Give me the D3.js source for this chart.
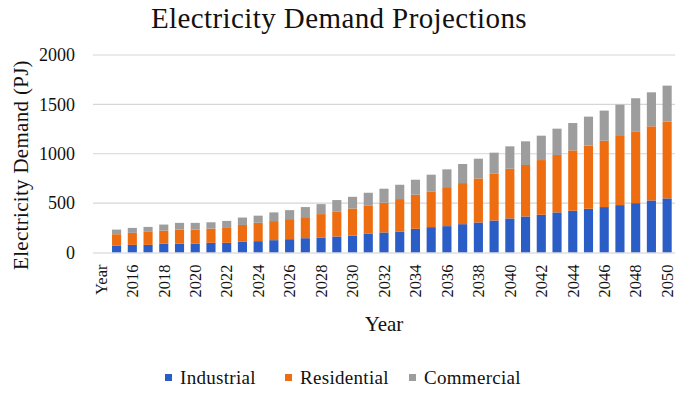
<!DOCTYPE html>
<html>
<head>
<meta charset="utf-8">
<script src="https://cdn.jsdelivr.net/npm/d3@7"></script>
<style>
  body { margin: 0; background: #fff; }
  svg text { font-family: 'Liberation Serif', 'DejaVu Serif', serif !important; fill: #111; }
</style>
</head>
<body>
<svg id="chart" width="700" height="394"></svg>
<script>
// categories (first slot is the header row "Year", it has no bar)
const categories = ["Year", "2015", "2016", "2017", "2018", "2019", "2020", "2021", "2022",
  "2023", "2024", "2025", "2026", "2027", "2028", "2029", "2030", "2031", "2032", "2033",
  "2034", "2035", "2036", "2037", "2038", "2039", "2040", "2041", "2042", "2043", "2044",
  "2045", "2046", "2047", "2048", "2049", "2050"];

// electricity demand, PJ
const industrial = [0, 71, 77, 77, 91, 91, 91, 98, 98, 111, 115, 125, 135, 145, 152, 162, 172,
  193, 203, 213, 240, 257, 267, 287, 304, 324, 345, 365, 382, 406, 423, 443, 460, 480, 500, 527, 548];
const residential = [0, 114, 122, 132, 131, 141, 141, 144, 158, 168, 186, 193, 203, 213, 237, 254, 274,
  284, 301, 328, 345, 358, 395, 416, 446, 477, 503, 521, 554, 581, 611, 639, 672, 700, 727, 751, 777];
const commercial = [0, 47, 50, 50, 61, 68, 68, 64, 64, 75, 72, 88, 91, 102, 101, 115, 118,
  128, 142, 145, 152, 173, 180, 193, 200, 210, 227, 240, 247, 267, 277, 294, 305, 317, 335, 344, 365];

const seriesNames = ["Industrial", "Residential", "Commercial"];
const seriesColors = ["#2b5dc7", "#ef6d11", "#9d9d9d"];
const yTicks = [0, 500, 1000, 1500, 2000];

const svg = d3.select("#chart");
const plotLeft = 93, plotRight = 675, plotTop = 55, plotBottom = 252.5;

// table for the stack layout
const rows = categories.map((c, i) => ({
  year: c, Industrial: industrial[i], Residential: residential[i], Commercial: commercial[i]
}));
const stacked = d3.stack().keys(seriesNames)(rows);

const x = d3.scaleBand().domain(categories).range([plotLeft, plotRight]).paddingInner(0.42).paddingOuter(0.21);
const y = d3.scaleLinear().domain([0, 2000]).range([plotBottom, plotTop]);
const color = d3.scaleOrdinal().domain(seriesNames).range(seriesColors);

// gridlines
svg.append("g")
  .selectAll("line").data(yTicks.slice(1)).join("line")
  .attr("x1", plotLeft).attr("x2", plotRight)
  .attr("y1", d => y(d)).attr("y2", d => y(d))
  .attr("stroke", "#d6d6d6").attr("stroke-width", 1.2);

// y axis labels
const yAxis = svg.append("g")
  .attr("transform", `translate(${plotLeft - 18},0)`)
  .call(d3.axisLeft(y).tickValues(yTicks).tickFormat(d3.format("d")).tickSize(0).tickPadding(0));
yAxis.attr("font-family", null);
yAxis.select(".domain").remove();
yAxis.selectAll("text").style("font-size", "18px").attr("fill", "#111");

// bars
svg.append("g")
  .selectAll("g").data(stacked).join("g")
  .attr("fill", d => color(d.key))
  .selectAll("rect").data(d => d).join("rect")
  .attr("x", d => x(d.data.year))
  .attr("width", x.bandwidth())
  .attr("y", d => y(d[1]))
  .attr("height", d => y(d[0]) - y(d[1]));

// x axis
const xAxis = svg.append("g")
  .attr("transform", `translate(0,${plotBottom})`)
  .call(d3.axisBottom(x).tickValues(categories.filter((c, i) => i % 2 === 0)).tickSize(0).tickPadding(0));
xAxis.attr("font-family", null);
xAxis.select(".domain").attr("stroke", "#cfcfcf").attr("stroke-width", 1.2)
  .attr("d", `M${plotLeft},0.5H${plotRight}`);
xAxis.selectAll("text")
  .style("font-size", "16.5px").attr("fill", "#111")
  .attr("transform", "rotate(-90)")
  .attr("text-anchor", "end")
  .attr("x", -12).attr("y", 0).attr("dy", "0.35em");

// title
svg.append("text")
  .attr("x", 339).attr("y", 28)
  .attr("text-anchor", "middle")
  .style("font-size", "29px")
  .style("letter-spacing", "0.4px")
  .text("Electricity Demand Projections");

// axis titles
svg.append("text")
  .attr("transform", "translate(28,165) rotate(-90)")
  .attr("text-anchor", "middle")
  .style("font-size", "21px")
  .style("letter-spacing", "0.3px")
  .text("Electricity Demand (PJ)");

svg.append("text")
  .attr("x", 384).attr("y", 331)
  .attr("text-anchor", "middle")
  .style("font-size", "21px")
  .text("Year");

// legend
const legendX = [165, 285, 409];
const legend = svg.append("g")
  .selectAll("g").data(seriesNames).join("g")
  .attr("transform", (d, i) => `translate(${legendX[i]},378)`);
legend.append("rect")
  .attr("x", 0).attr("y", -4).attr("width", 7).attr("height", 7)
  .attr("fill", d => color(d));
legend.append("text")
  .attr("x", 15).attr("y", 0).attr("dy", "0.32em")
  .style("font-size", "19px")
  .style("letter-spacing", "0.3px")
  .text(d => d);
</script>
</body>
</html>
